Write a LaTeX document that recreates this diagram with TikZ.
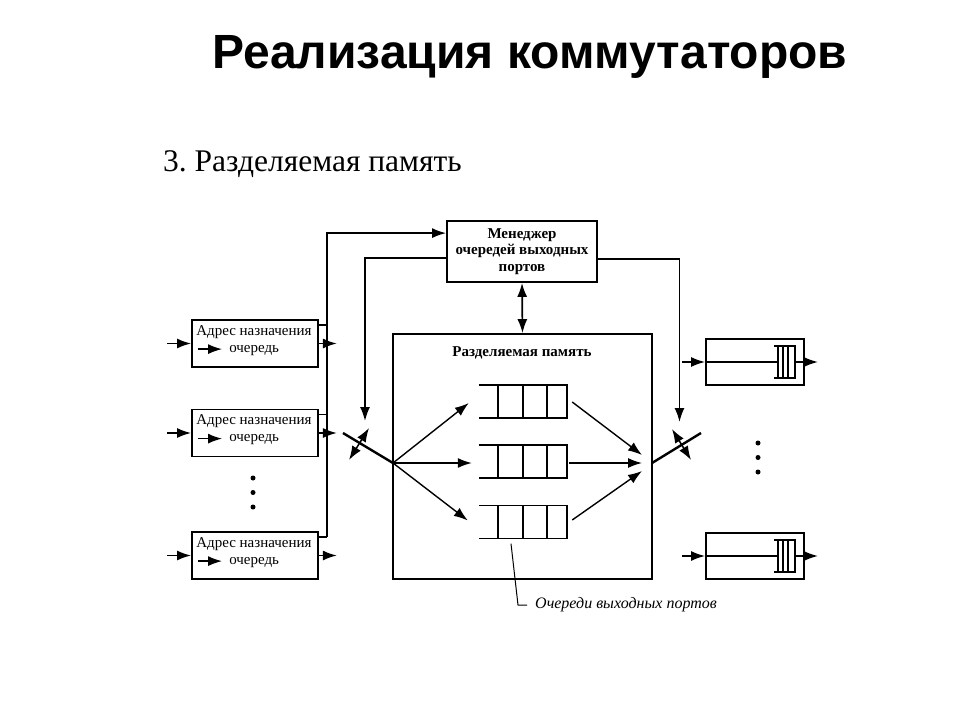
\documentclass[tikz,border=0pt]{standalone}
\usepackage{fontspec}
\setmainfont{Liberation Serif}
\newfontfamily\titlefont{Liberation Sans}
\usetikzlibrary{positioning}
\usetikzlibrary{arrows.meta}
\tikzstyle{block} = [rectangle, draw, line width=1.8pt, inner sep=0pt]
\tikzstyle{line} = [draw, line width=1.7pt, -{Latex[length=14pt,width=10pt]}]
\tikzstyle{dline} = [draw, line width=1.7pt, {Latex[length=14pt,width=10pt]}-{Latex[length=14pt,width=10pt]}]
\tikzstyle{wire} = [draw, line width=1.7pt]
\tikzstyle{cell} = [draw, line width=1.5pt]
\tikzstyle{dot} = [circle, fill, inner sep=0pt, minimum size=5pt]

\begin{document}
\frenchspacing
\begin{tikzpicture}[x=1pt, y=-1pt]
  \useasboundingbox (0,0) rectangle (960,720);

  \node [font=\titlefont\bfseries\fontsize{48}{54}\selectfont] (title) at (530,57) {Реализация коммутаторов};
  \node [anchor=west, inner sep=0pt, font=\fontsize{31.5}{34}\selectfont] (sub) at (163,164) {3. Разделяемая память};

  % manager and memory
  \node [block, minimum width=150pt, minimum height=61pt, align=center,
    font=\bfseries\fontsize{15}{16.5}\selectfont] (mgr) at (522,251.5) {Менеджер\\очередей выходных\\портов};
  \node [block, minimum width=259pt, minimum height=245pt] (mem) at (522.5,456.5) {};
  \node [font=\bfseries\fontsize{15}{17}\selectfont] (memlbl) at (522,353) {Разделяемая память};
  \path [dline] (mgr.south) -- (mem.north);

  % input ports
  \foreach \i/\y in {1/343.5, 2/433, 3/555.5} {
    \node [block, minimum width=126pt, minimum height=47pt] (in\i) at (255,\y) {};
    \node [anchor=base west, inner sep=0pt, font=\fontsize{15}{17}\selectfont]
      (adr\i) at ([shift={(5,16)}]in\i.north west) {Адрес назначения};
    \node [anchor=base west, inner sep=0pt, font=\fontsize{15}{17}\selectfont]
      (que\i) at ([shift={(38,33)}]in\i.north west) {очередь};
    \path [line, line width=1.5pt] ([shift={(-31,-3)}]que\i.base west) -- ([shift={(-7,-3)}]que\i.base west);
    \path [line] ([xshift=-24]in\i.west) -- (in\i.west);
    \path [line] (in\i.east) -- ++(18,0);
    \path [wire] ([yshift=-6]in\i.north east) -- ++(8,0);
  }
  \node [dot] (ld1) at (253,478) {};
  \node [dot] (ld2) at (253,492.5) {};
  \node [dot] (ld3) at (253,507) {};

  % bus to manager
  \coordinate (busb) at ([shift={(8,6)}]in3.north east);
  \path [line] (busb) |- ([yshift=-13]mgr.north west);

  % manager to switches
  \coordinate (swl) at (365,421);
  \coordinate (swr) at (679.5,422);
  \path [line] ([yshift=-6.5]mgr.west) -| (swl);
  \path [line] ([yshift=-7.5]mgr.east) -| (swr);

  % switches
  \coordinate (fan) at (393,463);
  \coordinate (join) at (652,463);
  \draw [line width=2.4pt] (343,433) -- (fan);
  \draw [line width=2.4pt] (join) -- (701,433);
  \path [dline, line width=1.5pt] (349,460) -- (369,428);
  \path [dline, line width=1.5pt] (672,429) -- (691,460);

  % output queues in memory
  \foreach \i/\y in {1/401.5, 2/461.5, 3/522} {
    \node [minimum width=88pt, minimum height=33pt, inner sep=0pt] (q\i) at (523,\y) {};
    \draw [cell] (q\i.north west) -- (q\i.north east) -- (q\i.south east) -- (q\i.south west);
    \foreach \xx in {19,44,68}
      \draw [cell] ([xshift=\xx]q\i.north west) -- ([xshift=\xx]q\i.south west);
  }
  \path [line, line width=1.4pt] (fan) -- ([shift={(-10,1.5)}]q1.west);
  \path [line, line width=1.4pt] (fan) -- ([shift={(-7,1.5)}]q2.west);
  \path [line, line width=1.4pt] (fan) -- ([shift={(-11,-1.5)}]q3.west);
  \path [line, line width=1.4pt] ([shift={(5,0.5)}]q1.east) -- ([shift={(-10,-8)}]join);
  \path [line, line width=1.4pt] ([shift={(2,1.5)}]q2.east) -- ([xshift=-10]join);
  \path [line, line width=1.4pt] ([shift={(5,-2)}]q3.east) -- ([shift={(-10,8)}]join);

  % pointer to queues
  \draw [line width=1pt] ([shift={(-12,5)}]q3.south) -- (518,605) -- (527,605);
  \node [anchor=west, inner sep=0pt, font=\itshape\fontsize{16}{18}\selectfont] (qlbl) at (535,605) {Очереди выходных портов};

  % output ports
  \foreach \i/\y in {1/362, 2/556} {
    \node [block, minimum width=98pt, minimum height=46pt] (out\i) at (755,\y) {};
    \path [line] ([xshift=-23]out\i.west) -- (out\i.west);
    \draw [wire] (out\i.west) -- ++(72,0);
    \draw [cell, line width=1.2pt] (774,\y-16) -- (795,\y-16) -- (795,\y+16) -- (774,\y+16);
    \foreach \xx in {778,783,788}
      \draw [cell, line width=1.2pt] (\xx,\y-16) -- (\xx,\y+16);
    \path [line] (795,\y) -- (818,\y);
  }
  \node [dot] (rd1) at (758,443) {};
  \node [dot] (rd2) at (758,457.5) {};
  \node [dot] (rd3) at (758,472) {};
\end{tikzpicture}
\end{document}
